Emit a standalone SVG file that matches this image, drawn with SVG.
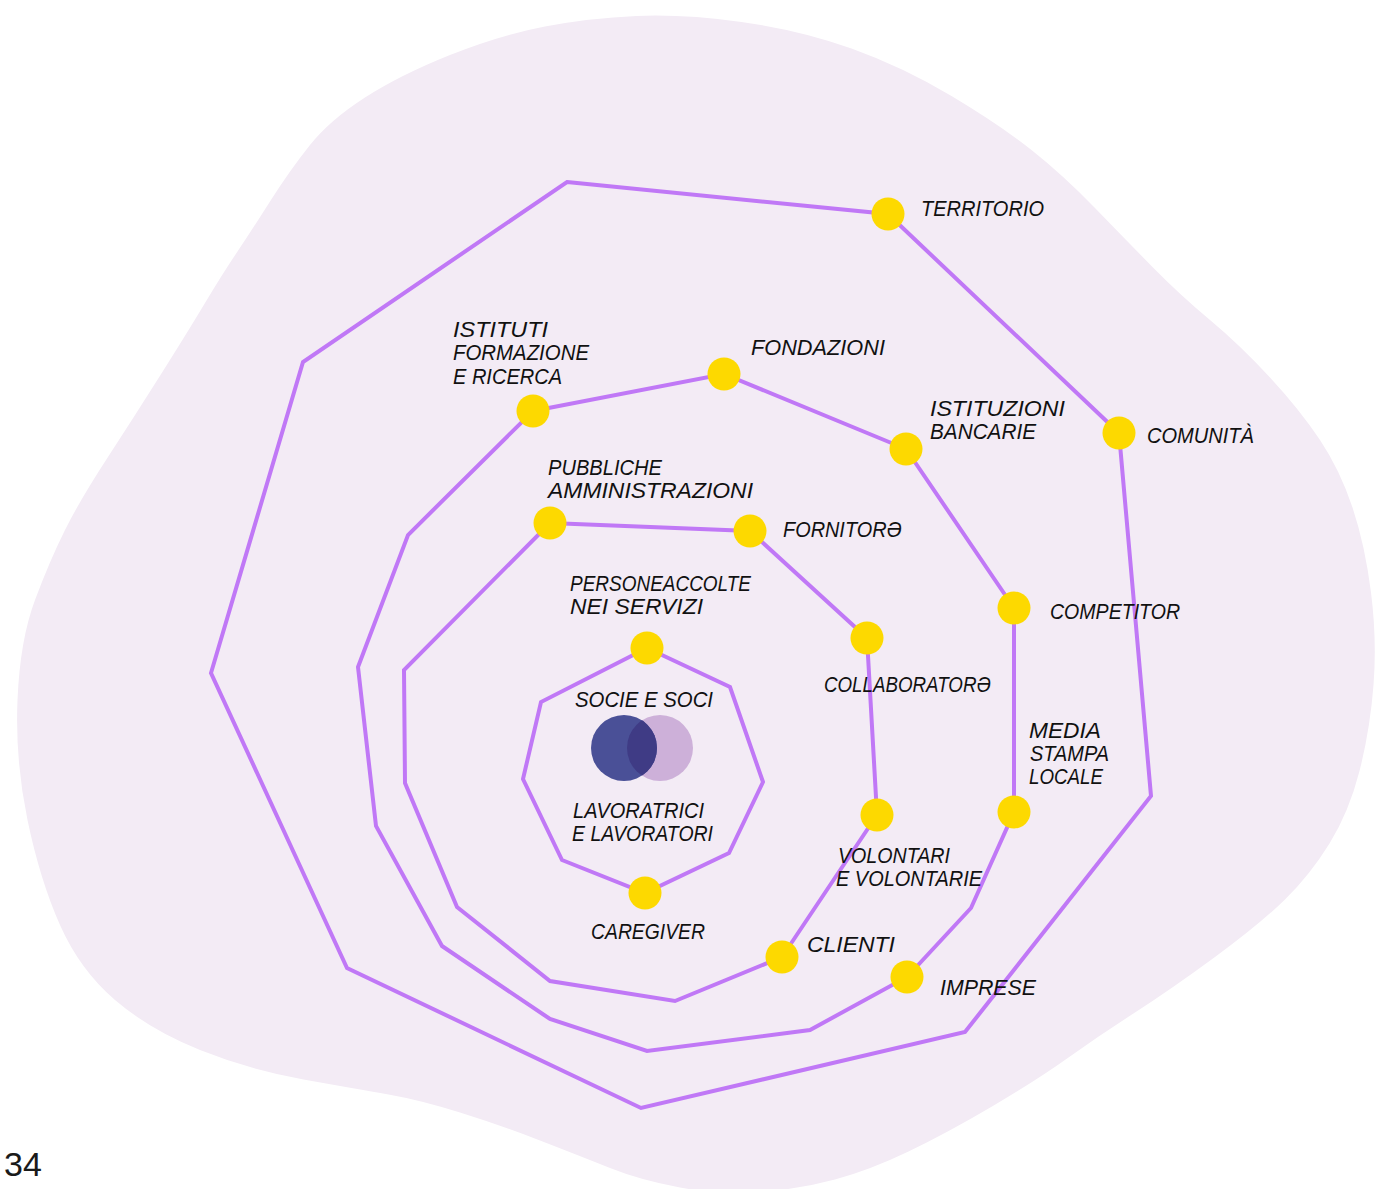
<svg xmlns="http://www.w3.org/2000/svg" width="1379" height="1189" viewBox="0 0 1379 1189">
  <style>
    .ring { fill: none; stroke: #c078f6; stroke-width: 4; stroke-linejoin: miter; }
    .dot { fill: #fdd900; }
    .lbl { font-family: "Liberation Sans Narrow", "Liberation Sans", Arial, sans-serif; font-style: italic; font-size: 22px; fill: #111111; }
    .page { font-family: "Liberation Sans", Arial, sans-serif; font-size: 34px; fill: #1a1a1a; }
  </style>
  <defs>
    <clipPath id="lensClip">
      <circle cx="660" cy="748" r="33"/>
    </clipPath>
  </defs>

  <rect width="1379" height="1189" fill="#ffffff"/>

  <!-- soft background blob -->
  <path id="blob" fill="#f3ebf5" d="M636.5,16 Q683,14 741.5,22 Q800,30 851.5,48.5 Q903,67 951.5,96 Q1000,125 1031.5,150 Q1063,175 1094.5,207.5 Q1126,240 1153,267.5 Q1180,295 1210,320 Q1240,345 1270,377.5 Q1300,410 1320,440 Q1340,470 1352.5,507.5 Q1365,545 1371,592.5 Q1377,640 1373.5,685 Q1370,730 1359.5,771 Q1349,812 1329.5,843.5 Q1310,875 1285,899.5 Q1260,924 1215,957 Q1170,990 1135,1012.5 Q1100,1035 1068.5,1057.5 Q1037,1080 992,1106.5 Q947,1133 908.5,1151.5 Q870,1170 835,1179.5 Q800,1189 760,1192 Q720,1195 680,1187.5 Q640,1180 610,1168 Q580,1156 540,1140.5 Q500,1125 460,1112.5 Q420,1100 388.5,1094.5 Q357,1089 303.5,1079.5 Q250,1070 200,1050 Q150,1030 115,1000 Q80,970 60,925 Q40,880 27.5,820 Q15,760 17.5,700 Q20,640 35,600 Q50,560 65,530 Q80,500 107,458.5 Q134,417 160.5,375 Q187,333 205,303 Q223,273 236.5,253 Q250,233 270,201.5 Q290,170 310,145 Q330,120 365,97.5 Q400,75 450,55 Q500,35 545,26.5 Q590,18 636.5,16 Z"/>

  <!-- concentric stakeholder rings -->
  <g id="connectors">
    <polygon class="ring" points="567,182 888,214 1119,433 1151,796 965,1032 641,1108 347,968 211,673 303,362"/>
    <polygon class="ring" points="533,411 724,374 906,449 1014,608 1014,812 971,908 907,977 810,1030 647,1051 550,1019 442,946 376,826 358,667 408,535"/>
    <polygon class="ring" points="550,523 750,531 867,638 877,815 782,957 675,1001 550,981 457,907 405,783 404,670"/>
    <polygon class="ring" points="647,648 730,687 763,782 729,853 645,893 562,860 523,779 541,702"/>
  </g>

  <!-- core: members and workers -->
  <g id="core">
    <circle cx="660" cy="748" r="33" fill="#cdb0d9"/>
    <circle cx="624" cy="748" r="33" fill="#4a5097"/>
    <circle cx="624" cy="748" r="33" fill="#3f3b85" clip-path="url(#lensClip)"/>
    <text class="lbl" x="575" y="707" textLength="138" lengthAdjust="spacingAndGlyphs">SOCIE E SOCI</text>
    <text class="lbl" x="573" y="818" textLength="131" lengthAdjust="spacingAndGlyphs">LAVORATRICI</text>
    <text class="lbl" x="572" y="841" textLength="141" lengthAdjust="spacingAndGlyphs">E LAVORATORI</text>
  </g>

  <g id="persone">
    <circle class="dot" cx="647" cy="648" r="16.5"/>
    <text class="lbl" x="570" y="591" textLength="181" lengthAdjust="spacingAndGlyphs">PERSONEACCOLTE</text>
    <text class="lbl" x="570" y="614" textLength="133" lengthAdjust="spacingAndGlyphs">NEI SERVIZI</text>
  </g>
  <g id="caregiver">
    <circle class="dot" cx="645" cy="893" r="16.5"/>
    <text class="lbl" x="591" y="939" textLength="114" lengthAdjust="spacingAndGlyphs">CAREGIVER</text>
  </g>

  <g id="pubbliche">
    <circle class="dot" cx="550" cy="523" r="16.5"/>
    <text class="lbl" x="548" y="475" textLength="114" lengthAdjust="spacingAndGlyphs">PUBBLICHE</text>
    <text class="lbl" x="548" y="498" textLength="205" lengthAdjust="spacingAndGlyphs">AMMINISTRAZIONI</text>
  </g>
  <g id="fornitori">
    <circle class="dot" cx="750" cy="531" r="16.5"/>
    <text class="lbl" x="783" y="537" textLength="119" lengthAdjust="spacingAndGlyphs">FORNITORƏ</text>
  </g>
  <g id="collaboratori">
    <circle class="dot" cx="867" cy="638" r="16.5"/>
    <text class="lbl" x="824" y="692" textLength="167" lengthAdjust="spacingAndGlyphs">COLLABORATORƏ</text>
  </g>
  <g id="volontari">
    <circle class="dot" cx="877" cy="815" r="16.5"/>
    <text class="lbl" x="838" y="863" textLength="112" lengthAdjust="spacingAndGlyphs">VOLONTARI</text>
    <text class="lbl" x="836" y="886" textLength="146" lengthAdjust="spacingAndGlyphs">E VOLONTARIE</text>
  </g>
  <g id="clienti">
    <circle class="dot" cx="782" cy="957" r="16.5"/>
    <text class="lbl" x="807" y="952" textLength="88" lengthAdjust="spacingAndGlyphs">CLIENTI</text>
  </g>

  <g id="istituti">
    <circle class="dot" cx="533" cy="411" r="16.5"/>
    <text class="lbl" x="453" y="337" textLength="95" lengthAdjust="spacingAndGlyphs">ISTITUTI</text>
    <text class="lbl" x="453" y="360" textLength="136" lengthAdjust="spacingAndGlyphs">FORMAZIONE</text>
    <text class="lbl" x="453" y="384" textLength="109" lengthAdjust="spacingAndGlyphs">E RICERCA</text>
  </g>
  <g id="fondazioni">
    <circle class="dot" cx="724" cy="374" r="16.5"/>
    <text class="lbl" x="751" y="355" textLength="134" lengthAdjust="spacingAndGlyphs">FONDAZIONI</text>
  </g>
  <g id="bancarie">
    <circle class="dot" cx="906" cy="449" r="16.5"/>
    <text class="lbl" x="930" y="416" textLength="135" lengthAdjust="spacingAndGlyphs">ISTITUZIONI</text>
    <text class="lbl" x="930" y="439" textLength="106" lengthAdjust="spacingAndGlyphs">BANCARIE</text>
  </g>
  <g id="competitor">
    <circle class="dot" cx="1014" cy="608" r="16.5"/>
    <text class="lbl" x="1050" y="619" textLength="130" lengthAdjust="spacingAndGlyphs">COMPETITOR</text>
  </g>
  <g id="media">
    <circle class="dot" cx="1014" cy="812" r="16.5"/>
    <text class="lbl" x="1029" y="738" textLength="72" lengthAdjust="spacingAndGlyphs">MEDIA</text>
    <text class="lbl" x="1030" y="761" textLength="79" lengthAdjust="spacingAndGlyphs">STAMPA</text>
    <text class="lbl" x="1029" y="784" textLength="74" lengthAdjust="spacingAndGlyphs">LOCALE</text>
  </g>
  <g id="imprese">
    <circle class="dot" cx="907" cy="977" r="16.5"/>
    <text class="lbl" x="940" y="995" textLength="96" lengthAdjust="spacingAndGlyphs">IMPRESE</text>
  </g>

  <g id="territorio">
    <circle class="dot" cx="888" cy="214" r="16.5"/>
    <text class="lbl" x="921" y="216" textLength="123" lengthAdjust="spacingAndGlyphs">TERRITORIO</text>
  </g>
  <g id="comunita">
    <circle class="dot" cx="1119" cy="433" r="16.5"/>
    <text class="lbl" x="1147" y="443" textLength="107" lengthAdjust="spacingAndGlyphs">COMUNITÀ</text>
  </g>

  <text class="page" x="4" y="1176">34</text>
</svg>
